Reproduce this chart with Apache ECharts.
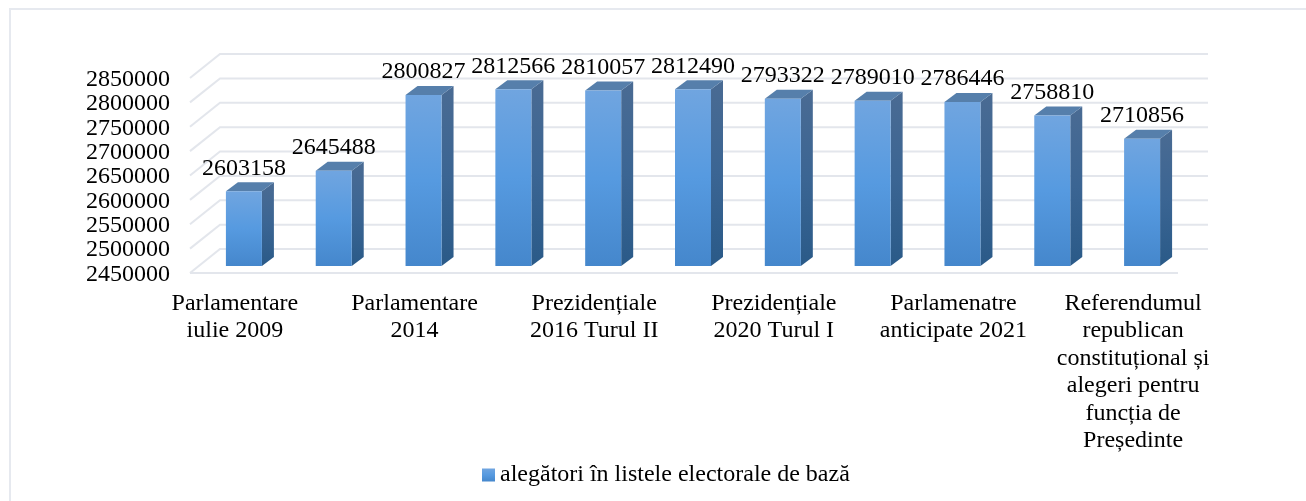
<!DOCTYPE html>
<html>
<head>
<meta charset="utf-8">
<style>
  html, body { margin: 0; padding: 0; background: #fff; }
  #chart { width: 1306px; height: 501px; }
</style>
<script src="https://cdn.jsdelivr.net/npm/echarts@6/dist/echarts.min.js"></script>
</head>
<body>
<div id="chart"></div>
<script>
const serieName = 'alegători în listele electorale de bază';
// doar etichetele vizibile, celelalte sunt sarite pe axa
const categories = [
  'Parlamentare\niulie 2009', '',
  'Parlamentare\n2014', '',
  'Prezidențiale\n2016 Turul II', '',
  'Prezidențiale\n2020 Turul I', '',
  'Parlamenatre\nanticipate 2021', '',
  'Referendumul\nrepublican\nconstituțional și\nalegeri pentru\nfuncția de\nPreședinte'
];
const values = [2603158, 2645488, 2800827, 2812566, 2810057, 2812490, 2793322, 2789010, 2786446, 2758810, 2710856];
const yTicks = [2450000, 2500000, 2550000, 2600000, 2650000, 2700000, 2750000, 2800000, 2850000];

const serif = '"Liberation Serif", "Times New Roman", serif';

function vGrad(top, mid, bottom) {
  return new echarts.graphic.LinearGradient(0, 0, 0, 1, [
    { offset: 0, color: top },
    { offset: 0.5, color: mid },
    { offset: 1, color: bottom }
  ]);
}

// pereti si podea (efect 3D)
function renderWall(params, api) {
  const cs = params.coordSys;
  const y = api.coord([0, api.value(0)])[1];
  const left = cs.x;
  const children = [
    { type: 'polyline', shape: { points: [[left, y], [left + 30, y - 24], [left + cs.width + 30, y - 24]] },
      style: { stroke: '#e3e6ec', lineWidth: 2, fill: null } }
  ];
  if (params.dataIndex === 0) {
    children.push({ type: 'line', shape: { x1: left, y1: y, x2: left + cs.width, y2: y },
      style: { stroke: '#e3e6ec', lineWidth: 2 } });
  }
  return { type: 'group', children: children };
}

// bara 3D: fata, lateral, capac si eticheta
function renderBar(params, api) {
  const top = api.coord([api.value(0), api.value(1)]);
  const base = api.coord([api.value(0), yTicks[0]]);
  const w = 36, ox = 9, oy = -7, dx = 12, dy = -9;
  const x0 = top[0] + ox - w / 2, x1 = x0 + w;
  const yt = top[1] + oy, yb = base[1] + oy;
  return {
    type: 'group',
    children: [
      { type: 'polygon', shape: { points: [[x1, yt], [x1 + dx, yt + dy], [x1 + dx, yb + dy], [x1, yb]] },
        style: { fill: vGrad('#4a6b93', '#3b6593', '#2a5a88') } },
      { type: 'polygon', shape: { points: [[x0, yt], [x0 + dx, yt + dy], [x1 + dx, yt + dy], [x1, yt]] },
        style: { fill: '#567fab' } },
      { type: 'rect', shape: { x: x0, y: yt, width: w, height: yb - yt },
        style: { fill: vGrad('#70a5e0', '#569ae0', '#4587cc') } },
      { type: 'text', x: x0 + w / 2, y: yt - 11,
        style: { text: String(api.value(1)), font: '24px ' + serif, fill: '#000', align: 'center', verticalAlign: 'bottom' } }
    ]
  };
}

const chart = echarts.init(document.getElementById('chart'));
chart.setOption({
  animation: false,
  backgroundColor: '#fff',
  graphic: [{ type: 'rect', shape: { x: 10, y: 9, width: 1310, height: 510 }, style: { fill: 'none', stroke: '#e6e9ef', lineWidth: 2 }, silent: true }],
  legend: {
    data: [{ name: serieName, icon: 'rect' }],
    top: 458,
    left: 477,
    itemWidth: 13,
    itemHeight: 13,
    itemGap: 0,
    textStyle: { fontFamily: serif, fontSize: 24, color: '#000' }
  },
  grid: { left: 190, right: 128, top: 78, bottom: 228 },
  xAxis: {
    type: 'category',
    data: categories,
    axisLine: { show: false },
    axisTick: { show: false },
    axisLabel: { interval: 0, margin: 17, fontFamily: serif, fontSize: 24, lineHeight: 27.4, color: '#000', align: 'center', verticalAlign: 'top' }
  },
  yAxis: {
    type: 'value',
    min: 2450000,
    max: 2850000,
    interval: 50000,
    axisLine: { show: false },
    axisTick: { show: false },
    splitLine: { show: false },
    // eticheta sta putin sub linie, ca in original
    axisLabel: { margin: 20, verticalAlign: 'top', lineHeight: 3, fontFamily: serif, fontSize: 24, color: '#000', formatter: (v) => String(v) }
  },
  series: [
    { type: 'custom', name: 'wall', data: yTicks, renderItem: renderWall, encode: { y: 0 }, clip: false, silent: true, z: 1 },
    { type: 'custom', name: serieName, data: values.map((v, i) => [i, v]), renderItem: renderBar, encode: { x: 0, y: 1 }, clip: false, z: 2,
      itemStyle: { color: vGrad('#70a5e0', '#569ae0', '#4587cc') } }
  ]
});
</script>
</body>
</html>
